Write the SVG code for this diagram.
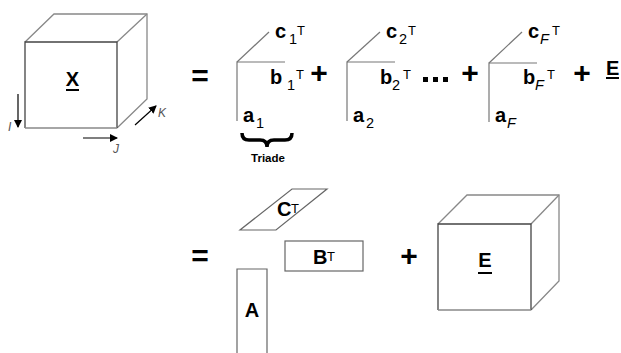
<svg xmlns="http://www.w3.org/2000/svg" width="621" height="353" viewBox="0 0 621 353">
<defs>
<style>
.bg{fill:#fff}
.front{fill:none;stroke:#444;stroke-width:1.3}
.back{fill:none;stroke:#888;stroke-width:1.3}
.ln{fill:none;stroke:#777;stroke-width:1.2}
.box{fill:#fff;stroke:#666;stroke-width:1.2}
.big{font-family:"Liberation Sans",Arial,sans-serif;font-weight:bold;font-size:20px;fill:#000}
.sub{font-family:"Liberation Sans",Arial,sans-serif;font-size:14.5px;fill:#000}
.sup{font-family:"Liberation Sans",Arial,sans-serif;font-size:13px;fill:#000}
.it{font-style:italic}
.op{font-family:"Liberation Sans",Arial,sans-serif;font-weight:bold;font-size:30px;fill:#000}
.axis{font-family:"Liberation Sans",Arial,sans-serif;font-style:italic;font-size:12px;fill:#555}
.ul{stroke:#000;stroke-width:2}
</style>
<marker id="ah" markerWidth="8" markerHeight="8" refX="7" refY="4" orient="auto" markerUnits="userSpaceOnUse">
<path d="M0,0 L8,4 L0,8 Z" fill="#000"/>
</marker>
</defs>
<rect class="bg" width="621" height="353"/>

<g id="cubeX">
<polyline class="back" points="25,42 54,14 147,14 147,99 117,128"/>
<line class="back" x1="117" y1="42" x2="147" y2="14"/>
<path class="front" d="M25,128 L25,42 L117,42 L117,128"/>
<line class="back" x1="25" y1="128" x2="117" y2="128"/>
<text class="big" x="72.5" y="86" text-anchor="middle">X</text>
<line class="ul" x1="66" y1="90" x2="79" y2="90"/>
</g>

<g id="axes">
<line x1="18" y1="94" x2="18" y2="127" stroke="#000" stroke-width="1.2" marker-end="url(#ah)"/>
<text class="axis" x="8" y="131">I</text>
<line x1="83" y1="138" x2="117" y2="138" stroke="#000" stroke-width="1.2" marker-end="url(#ah)"/>
<text class="axis" x="113" y="153">J</text>
<line x1="135" y1="125" x2="156" y2="106" stroke="#000" stroke-width="1.2" marker-end="url(#ah)"/>
<text class="axis" x="158" y="117">K</text>
</g>

<g id="eq1"><text class="op" x="200" y="86" text-anchor="middle">=</text></g>

<g id="triad1">
<polyline class="ln" points="237,121 237,62 285,62"/>
<line class="ln" x1="237" y1="62" x2="269" y2="32"/>
<text class="big" x="275" y="38">c</text><text class="sub" x="289" y="44">1</text><text class="sup" x="297" y="35">T</text>
<text class="big" x="270" y="84">b</text><text class="sub" x="287" y="90">1</text><text class="sup" x="296" y="79">T</text>
<text class="big" x="243" y="122">a</text><text class="sub" x="256" y="128">1</text>
</g>

<g id="brace">
<path d="M242,133 Q242,140 249,140 L260,140 Q267,140 267,147 Q267,140 274,140 L285,140 Q292,140 292,133" fill="none" stroke="#000" stroke-width="3.5"/>
<text x="268" y="162" text-anchor="middle" font-family="Liberation Sans, Arial, sans-serif" font-weight="bold" font-size="11.5" fill="#000">Triade</text>
</g>

<g id="plus1"><text class="op" x="319" y="83" text-anchor="middle">+</text></g>

<g id="triad2">
<polyline class="ln" points="347,121 347,62 395,62"/>
<line class="ln" x1="347" y1="62" x2="380" y2="32"/>
<text class="big" x="386" y="38">c</text><text class="sub" x="399" y="44">2</text><text class="sup" x="408" y="35">T</text>
<text class="big" x="380" y="84">b</text><text class="sub" x="392" y="90">2</text><text class="sup" x="403" y="79">T</text>
<text class="big" x="353" y="122">a</text><text class="sub" x="366" y="128">2</text>
</g>

<g id="dots">
<rect x="423" y="77" width="5" height="5" fill="#000"/>
<rect x="433" y="77" width="5" height="5" fill="#000"/>
<rect x="443" y="77" width="5" height="5" fill="#000"/>
</g>

<g id="plus2"><text class="op" x="470" y="83" text-anchor="middle">+</text></g>

<g id="triadF">
<polyline class="ln" points="489,122 489,63 537,63"/>
<line class="ln" x1="489" y1="63" x2="522" y2="32"/>
<text class="big" x="528" y="38">c</text><text class="sub it" x="540" y="44">F</text><text class="sup" x="552" y="35">T</text>
<text class="big" x="523" y="84">b</text><text class="sub it" x="535" y="90">F</text><text class="sup" x="547" y="79">T</text>
<text class="big" x="495" y="122">a</text><text class="sub it" x="507" y="128">F</text>
</g>

<g id="plus3"><text class="op" x="582" y="83" text-anchor="middle">+</text></g>

<g id="E1">
<text class="big" x="606" y="75">E</text>
<line class="ul" x1="606" y1="78" x2="619" y2="78"/>
</g>

<g id="eq2"><text class="op" x="200" y="266" text-anchor="middle">=</text></g>

<g id="CT">
<polygon class="box" points="292,189 327,189 276,230 240,230"/>
<text class="big" x="277" y="216">C</text><text class="sup" x="291" y="213">T</text>
</g>

<g id="BT">
<rect class="box" x="285" y="241" width="78" height="30"/>
<text class="big" x="313" y="264">B</text><text class="sup" x="327" y="261">T</text>
</g>

<g id="A">
<path class="box" d="M237,353 L237,269 L267,269 L267,353"/>
<text class="big" x="252" y="317" text-anchor="middle">A</text>
</g>

<g id="plus4"><text class="op" x="409" y="266" text-anchor="middle">+</text></g>

<g id="cubeE">
<polyline class="back" points="438,224 467,195 559,195 559,281 531,310"/>
<line class="back" x1="531" y1="224" x2="559" y2="195"/>
<path class="front" d="M438,310 L438,224 L531,224 L531,310"/>
<line class="back" x1="438" y1="310" x2="531" y2="310"/>
<text class="big" x="485" y="267" text-anchor="middle">E</text>
<line class="ul" x1="478" y1="273" x2="492" y2="273"/>
</g>
</svg>
